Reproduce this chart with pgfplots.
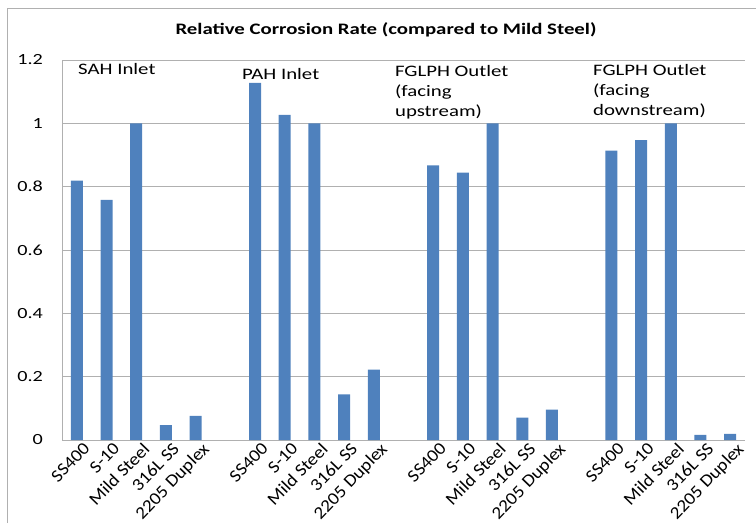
\documentclass[border=0pt]{standalone}
\usepackage{pgfplots}
\pgfplotsset{compat=1.18}
\usepackage{fontspec}
\setmainfont{Carlito}[FakeStretch=1.3]
\newfontfamily\tickfont{Carlito}[FakeStretch=1.1]
\definecolor{barblue}{RGB}{79,129,189}
\definecolor{gridgray}{RGB}{176,176,176}
\begin{document}
\begin{tikzpicture}[x=1pt,y=1pt]
\useasboundingbox (0,0) rectangle (756,523);
\draw[gridgray, line width=0.8pt] (7,0) -- (7,515) -- (756,515);
\node[font=\fontsize{16}{18}\selectfont\bfseries] at (386,493) {Relative Corrosion Rate (compared to Mild Steel)};
\begin{axis}[
  at={(62pt,83pt)}, anchor=south west,
  scale only axis, width=683pt, height=380pt,
  xmin=-0.5, xmax=22.5, ymin=0, ymax=1.2,
  ybar, bar width=12pt,
  axis x line=bottom, axis y line=left,
  axis line style={gridgray, line width=0.8pt, -},
  ymajorgrids, grid style={gridgray, line width=0.8pt},
  ytick={0,0.2,0.4,0.6,0.8,1,1.2},
  yticklabels={0,0.2,0.4,0.6,0.8,1,1.2},
  xtick={0,1,2,3,4,6,7,8,9,10,12,13,14,15,16,18,19,20,21,22},
  xticklabels={SS400,S-10,Mild Steel,316L SS,2205 Duplex,SS400,S-10,Mild Steel,316L SS,2205 Duplex,SS400,S-10,Mild Steel,316L SS,2205 Duplex,SS400,S-10,Mild Steel,316L SS,2205 Duplex},
  major tick length=0pt,
  xticklabel style={rotate=46, anchor=north east, inner sep=1pt, xshift=4pt, yshift=-4pt, font=\tickfont\fontsize{17.5}{19}\selectfont},
  yticklabel style={font=\fontsize{15.5}{17}\selectfont, inner sep=2pt, xshift=-17pt},
  /pgf/number format/assume math mode=true,
  clip=false,
]
\addplot[fill=barblue, draw=none] coordinates {
 (0,0.819) (1,0.758) (2,1.0) (3,0.047) (4,0.076)
 (6,1.128) (7,1.027) (8,1.0) (9,0.144) (10,0.222)
 (12,0.867) (13,0.844) (14,1.0) (15,0.071) (16,0.096)
 (18,0.914) (19,0.947) (20,1.0) (21,0.016) (22,0.019)
};
\begin{scope}[every node/.style={anchor=north west, inner sep=0pt, align=left, font=\fontsize{16}{20}\selectfont}]
\node at (axis cs:0.04,1.19) {SAH Inlet};
\node at (axis cs:5.56,1.174) {PAH Inlet};
\node at (axis cs:10.71,1.184) {FGLPH Outlet\\(facing\\upstream)};
\node at (axis cs:17.38,1.187) {FGLPH Outlet\\(facing\\downstream)};
\end{scope}
\end{axis}
\end{tikzpicture}
\end{document}
